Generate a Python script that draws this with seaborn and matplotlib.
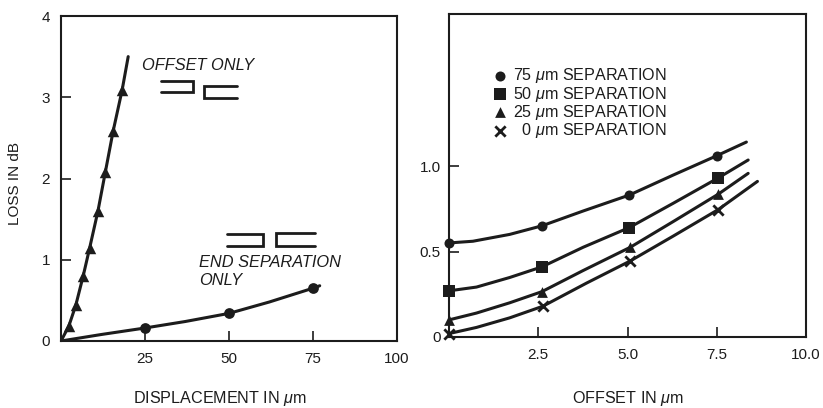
import matplotlib
matplotlib.use("Agg")
import matplotlib.pyplot as plt
import seaborn as sns
import pandas as pd

sns.set_theme(style="white")
plt.rcParams['font.family'] = ['Liberation Sans', 'DejaVu Sans']
plt.rcParams['mathtext.fontset'] = 'custom'
plt.rcParams['mathtext.rm'] = 'Liberation Sans'
plt.rcParams['mathtext.it'] = 'Liberation Sans:italic'

INK = '#1c1c1c'

# Left panel
offset_x = [0, 2.3, 4.4, 6.6, 8.5, 11.0, 13.2, 15.5, 18.2, 20.0]
offset_y = [0, 0.18, 0.44, 0.80, 1.14, 1.60, 2.08, 2.58, 3.09, 3.50]
offset_mx = [2.3, 4.4, 6.6, 8.5, 11.0, 13.2, 15.5, 18.2]
offset_my = [0.18, 0.44, 0.80, 1.14, 1.60, 2.08, 2.58, 3.09]
sep_x = [0, 12, 25, 37, 50, 62, 75, 77]
sep_y = [0, 0.08, 0.16, 0.24, 0.34, 0.48, 0.65, 0.68]
sep_mx = [25, 50, 75]
sep_my = [0.16, 0.34, 0.65]

# Right panel: curves as traced, plus the marked points
curve_x = {
    '75': [0, 0.67, 1.7, 2.6, 3.76, 5.05, 6.28, 7.5, 8.33],
    '50': [0, 0.77, 1.7, 2.6, 3.76, 5.05, 6.28, 7.54, 8.38],
    '25': [0, 0.77, 1.7, 2.6, 3.76, 5.08, 6.28, 7.54, 8.38],
    '0': [0, 0.77, 1.7, 2.63, 3.85, 5.08, 6.28, 7.54, 8.64],
}
curve_y = {
    '75': [0.55, 0.56, 0.60, 0.65, 0.737, 0.83, 0.947, 1.06, 1.14],
    '50': [0.27, 0.292, 0.348, 0.41, 0.525, 0.64, 0.782, 0.93, 1.035],
    '25': [0.10, 0.14, 0.20, 0.265, 0.389, 0.525, 0.675, 0.835, 0.957],
    '0': [0.02, 0.056, 0.112, 0.18, 0.315, 0.445, 0.59, 0.745, 0.91],
}
point_x = {
    '75': [0, 2.6, 5.05, 7.5],
    '50': [0, 2.6, 5.05, 7.54],
    '25': [0, 2.6, 5.08, 7.54],
    '0': [0, 2.63, 5.08, 7.54],
}
point_y = {
    '75': [0.55, 0.65, 0.83, 1.06],
    '50': [0.27, 0.41, 0.64, 0.93],
    '25': [0.10, 0.265, 0.525, 0.835],
    '0': [0.02, 0.18, 0.445, 0.745],
}
markers = {'75': 'o', '50': 's', '25': '^', '0': 'x'}
sizes = {'75': 52, '50': 78, '25': 60, '0': 55}
widths = {'75': 0, '50': 0, '25': 0, '0': 2.0}
labels = {'75': r'75 $\mu$m SEPARATION', '50': r'50 $\mu$m SEPARATION',
          '25': r'25 $\mu$m SEPARATION', '0': r'  0 $\mu$m SEPARATION'}

left_xticks = [25, 50, 75, 100]
left_yticks = [0, 1, 2, 3, 4]
right_xticks = [2.5, 5.0, 7.5, 10.0]
right_yticks = [0, 0.5, 1.0]
right_yticklabels = ['0', '0.5', '1.0']

# Fibre-end glyphs (left panel)
glyph_a = ([29.9, 39.4, 39.4, 29.9], [3.20, 3.20, 3.07, 3.07])
glyph_b = ([52.3, 42.5, 42.5, 52.3], [3.14, 3.14, 2.995, 2.995])
glyph_c = ([49.3, 60.0, 60.0, 49.3], [1.313, 1.313, 1.169, 1.169])
glyph_d = ([75.6, 64.0, 64.0, 75.6], [1.325, 1.325, 1.173, 1.173])

W, H = 823, 408
fig = plt.figure(figsize=(W / 100, H / 100), dpi=100, facecolor='white')
ax1 = fig.add_axes([61 / W, 1 - 341 / H, 336 / W, 325 / H])
ax2 = fig.add_axes([449 / W, 1 - 337 / H, 357 / W, 323 / H])

LW = 2.2
sns.lineplot(data=pd.DataFrame({'x': offset_x, 'y': offset_y}), x='x', y='y', ax=ax1,
             color=INK, lw=LW, errorbar=None, sort=False)
sns.lineplot(data=pd.DataFrame({'x': sep_x, 'y': sep_y}), x='x', y='y', ax=ax1,
             color=INK, lw=LW, errorbar=None, sort=False)
sns.scatterplot(x=offset_mx, y=offset_my, ax=ax1, marker='^', s=68, color=INK,
                linewidth=0, clip_on=False, zorder=4)
sns.scatterplot(x=sep_mx, y=sep_my, ax=ax1, marker='o', s=60, color=INK,
                linewidth=0, clip_on=False, zorder=4)

for g in (glyph_a, glyph_b, glyph_c, glyph_d):
    ax1.plot(g[0], g[1], color=INK, lw=2.0, solid_joinstyle='miter')

ax1.text(24, 3.39, 'OFFSET ONLY', style='italic', fontsize=11.8, color=INK, va='center')
ax1.text(41, 0.97, 'END SEPARATION', style='italic', fontsize=11.8, color=INK, va='center')
ax1.text(41, 0.75, 'ONLY', style='italic', fontsize=11.8, color=INK, va='center')

ax1.set_xlim(0, 100)
ax1.set_ylim(0, 4)
ax1.set_xticks(left_xticks)
ax1.set_yticks(left_yticks)
ax1.set_xlabel(r'DISPLACEMENT IN $\mu$m', fontsize=11.6, color=INK, va='center')
ax1.xaxis.set_label_coords(0.473, (341 - 399) / 325)
ax1.set_ylabel('LOSS IN dB', fontsize=11, color=INK, va='center')
ax1.yaxis.set_label_coords((15 - 61) / 336, (341 - 183) / 325)

for key in ['75', '50', '25', '0']:
    sns.lineplot(data=pd.DataFrame({'x': curve_x[key], 'y': curve_y[key]}), x='x', y='y',
                 ax=ax2, color=INK, lw=LW, errorbar=None, sort=False, legend=False)
for key in ['75', '50', '25', '0']:
    sns.scatterplot(x=point_x[key], y=point_y[key],
                    ax=ax2, marker=markers[key], s=sizes[key], color=INK, linewidth=widths[key],
                    clip_on=False, zorder=4, label=labels[key])

ax2.set_xlim(0, 10)
ax2.set_ylim(0, 323 / 171)
ax2.set_xticks(right_xticks)
ax2.set_xticklabels([f'{v:.1f}' for v in right_xticks])
ax2.set_yticks(right_yticks)
ax2.set_yticklabels(right_yticklabels)
ax2.set_xlabel(r'OFFSET IN $\mu$m', fontsize=11.6, color=INK, va='center')
ax2.xaxis.set_label_coords((628 - 449) / 357, (337 - 398) / 323)
ax2.set_ylabel('')
ax2.legend(loc='upper left', bbox_to_anchor=(0.117, 0.838), frameon=False, fontsize=11.6,
           labelcolor=INK, handletextpad=0.15, labelspacing=-0.05, borderpad=0, borderaxespad=0,
           handlelength=1.2)

for ax in (ax1, ax2):
    for s in ax.spines.values():
        s.set_visible(True)
        s.set_color(INK)
        s.set_linewidth(1.5)
    ax.tick_params(axis='both', direction='in', length=7, width=1.2, color=INK,
                   labelcolor=INK, labelsize=11, left=True, bottom=True)
    ax.tick_params(axis='x', pad=8)
ax1.tick_params(axis='y', pad=8)
ax2.tick_params(axis='y', pad=6)

fig.savefig('out.png', dpi=100)
